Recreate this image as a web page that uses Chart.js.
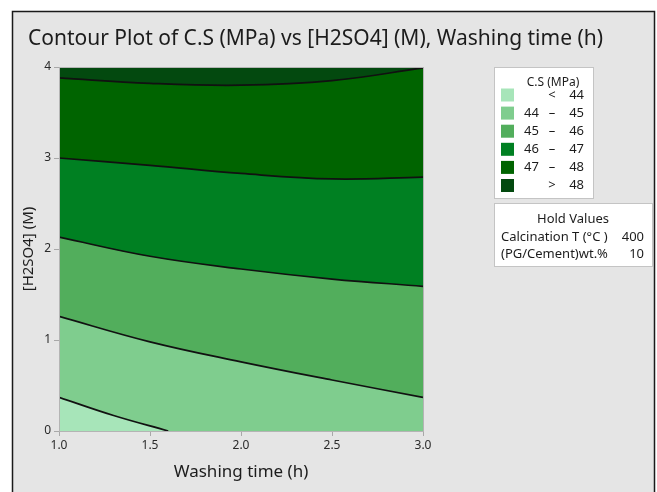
<!DOCTYPE html>
<html>
<head>
<meta charset="utf-8">
<script src="https://cdn.jsdelivr.net/npm/chart.js@4/dist/chart.umd.min.js"></script>
<style>
  html, body { margin: 0; padding: 0; background: #fff; }
  #wrap { width: 657px; height: 492px; }
</style>
</head>
<body>
<div id="wrap"><canvas id="contour" width="657" height="492"></canvas></div>
<script>
// washing time (h) on x, contour heights of [H2SO4] (M)
const washTime = [1.0, 1.5, 2.0, 2.5, 3.0];
const line44x = [1.0, 1.3, 1.6];
const line44 = [0.37, 0.17, 0.0];
const line45 = [1.26, 0.98, 0.76, 0.56, 0.37];
const line46 = [2.13, 1.92, 1.78, 1.67, 1.59];
const line47 = [3.00, 2.92, 2.83, 2.77, 2.79];
const line48 = [3.88, 3.82, 3.80, 3.85, 3.99];
const topEdge = [4, 4, 4, 4, 4];

const bandLabels = [['', '<', '44'], ['44', '–', '45'], ['45', '–', '46'], ['46', '–', '47'], ['47', '–', '48'], ['', '>', '48']];
const bandColors = ['#a7e5b9', '#7fcd8e', '#52ae5c', '#008022', '#006400', '#03490f'];

const holdNames = ['Calcination T (°C )', '(PG/Cement)wt.%'];
const holdValues = ['400', '10'];

const FONT = '"Noto Sans", "Open Sans", sans-serif';
const INK = '#1c1c1c';

function pts(xs, ys) {
    return xs.map((x, i) => ({ x: x, y: ys[i] }));
}

function contour(xs, ys, fillColor, border) {
    return {
        data: pts(xs, ys),
        borderColor: '#111',
        borderWidth: border ? 1.7 : 0,
        backgroundColor: fillColor,
        fill: 'start',
        pointRadius: 0,
        tension: 0.4
    };
}

// drawn last-to-first, so the lowest line sits on top
const datasets = [
    contour(line44x, line44, bandColors[0], true),
    contour(washTime, line45, bandColors[1], true),
    contour(washTime, line46, bandColors[2], true),
    contour(washTime, line47, bandColors[3], true),
    contour(washTime, line48, bandColors[4], true),
    contour(washTime, topEdge, bandColors[5], false)
];

const frame = {
    id: 'frame',
    beforeDraw(chart) {
        const ctx = chart.ctx;
        ctx.save();
        ctx.fillStyle = '#ffffff';
        ctx.fillRect(0, 0, chart.width, chart.height);
        ctx.fillStyle = '#e5e5e5';
        ctx.fillRect(12, 11, 643, 490);
        ctx.strokeStyle = '#1a1a1a';
        ctx.lineWidth = 1.5;
        ctx.strokeRect(12.5, 11.5, 642, 500);

        ctx.fillStyle = INK;
        ctx.font = '21px ' + FONT;
        ctx.textBaseline = 'middle';
        ctx.fillText('Contour Plot of C.S (MPa) vs [H2SO4] (M), Washing time (h)', 28, 39);
        ctx.restore();
    },
    afterDatasetsDraw(chart) {
        const ctx = chart.ctx;
        const a = chart.chartArea;
        ctx.save();
        ctx.strokeStyle = '#b4b4b4';
        ctx.lineWidth = 1;
        ctx.strokeRect(Math.round(a.left) + 0.5, Math.round(a.top) + 0.5, Math.round(a.right - a.left), Math.round(a.bottom - a.top));
        ctx.restore();
    },
    afterDraw(chart) {
        const ctx = chart.ctx;
        ctx.save();
        // level legend
        ctx.fillStyle = '#ffffff';
        ctx.strokeStyle = '#c4c4c4';
        ctx.lineWidth = 1;
        ctx.fillRect(494, 67, 100, 131);
        ctx.strokeRect(494.5, 67.5, 99, 131);
        ctx.fillStyle = INK;
        ctx.font = '12px ' + FONT;
        ctx.textBaseline = 'middle';
        ctx.textAlign = 'center';
        ctx.fillText('C.S (MPa)', 553, 83);
        bandLabels.forEach((lab, i) => {
            const y = 95 + i * 18.1;
            ctx.fillStyle = bandColors[i];
            ctx.fillRect(501, y - 6.5, 13, 13);
            ctx.fillStyle = INK;
            ctx.font = '13px ' + FONT;
            ctx.textAlign = 'left';
            ctx.fillText(lab[0], 524, y);
            ctx.textAlign = 'center';
            ctx.fillText(lab[1], 552, y);
            ctx.textAlign = 'right';
            ctx.fillText(lab[2], 584, y);
        });

        // hold values box
        ctx.fillStyle = '#ffffff';
        ctx.strokeStyle = '#c4c4c4';
        ctx.fillRect(494, 203, 159, 63);
        ctx.strokeRect(494.5, 203.5, 158, 63);
        ctx.fillStyle = INK;
        ctx.font = '13px ' + FONT;
        ctx.textAlign = 'center';
        ctx.fillText('Hold Values', 573, 219);
        holdNames.forEach((name, i) => {
            const y = 237 + i * 17;
            ctx.textAlign = 'left';
            ctx.fillText(name, 501, y);
            ctx.textAlign = 'right';
            ctx.fillText(holdValues[i], 644, y);
        });
        ctx.restore();
    }
};

new Chart(document.getElementById('contour'), {
    type: 'line',
    data: { datasets: datasets },
    plugins: [frame],
    options: {
        responsive: false,
        animation: false,
        devicePixelRatio: 1,
        layout: { padding: { left: 13, right: 234, top: 67, bottom: 0 } },
        plugins: {
            legend: { display: false },
            tooltip: { enabled: false },
            filler: { propagate: false }
        },
        scales: {
            x: {
                type: 'linear',
                min: 1,
                max: 3,
                afterFit(scale) { scale.height = 61; },
                ticks: {
                    stepSize: 0.5,
                    padding: 2,
                    color: '#2a2a2a',
                    font: { family: FONT, size: 12 },
                    callback: v => v.toFixed(1)
                },
                grid: { drawOnChartArea: false, tickLength: 5, color: '#a8a8a8' },
                border: { color: '#b4b4b4' },
                title: {
                    display: true,
                    text: 'Washing time (h)',
                    color: INK,
                    font: { family: FONT, size: 17 },
                    padding: { top: 0, bottom: 10 }
                }
            },
            y: {
                type: 'linear',
                min: 0,
                max: 4,
                afterFit(scale) { scale.width = 46; },
                ticks: {
                    stepSize: 1,
                    padding: 3,
                    color: '#2a2a2a',
                    font: { family: FONT, size: 12 }
                },
                grid: { drawOnChartArea: false, tickLength: 5, color: '#a8a8a8' },
                border: { color: '#b4b4b4' },
                title: {
                    display: true,
                    text: '[H2SO4] (M)',
                    color: INK,
                    font: { family: FONT, size: 15 },
                    padding: { top: 7, bottom: 0 }
                }
            }
        }
    }
});
</script>
</body>
</html>
